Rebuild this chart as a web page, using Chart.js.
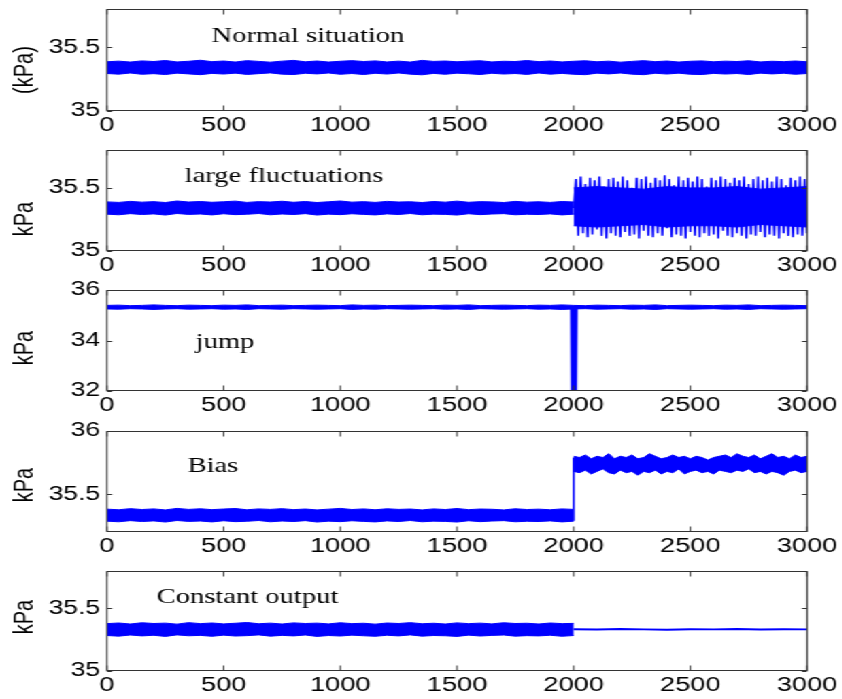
<!DOCTYPE html>
<html>
<head>
<meta charset="utf-8">
<script src="https://cdn.jsdelivr.net/npm/chart.js@4.4.1/dist/chart.umd.min.js"></script>
<style>
html,body{margin:0;padding:0;background:#fff;overflow:hidden;width:842px;height:699px;}
#wrap{position:absolute;left:0;top:0;width:619px;height:699px;transform:scaleX(1.36);transform-origin:0 0;}
#wrap canvas{position:absolute;left:0;}
</style>
</head>
<body>
<div id="wrap"></div>
<script>
// ---------- sample positions (x) ----------
const xFull50 = [0,50,100,150,200,250,300,350,400,450,500,550,600,650,700,750,800,850,900,950,1000,1050,1100,1150,1200,1250,1300,1350,1400,1450,1500,1550,1600,1650,1700,1750,1800,1850,1900,1950,2000,2050,2100,2150,2200,2250,2300,2350,2400,2450,2500,2550,2600,2650,2700,2750,2800,2850,2900,2950,3000];
const xTo2000by50 = [0,50,100,150,200,250,300,350,400,450,500,550,600,650,700,750,800,850,900,950,1000,1050,1100,1150,1200,1250,1300,1350,1400,1450,1500,1550,1600,1650,1700,1750,1800,1850,1900,1950,2000];
const xFrom2000by25 = [2000,2025,2050,2075,2100,2125,2150,2175,2200,2225,2250,2275,2300,2325,2350,2375,2400,2425,2450,2475,2500,2525,2550,2575,2600,2625,2650,2675,2700,2725,2750,2775,2800,2825,2850,2875,2900,2925,2950,2975,3000];
const xFrom2000by10 = [2000,2010,2020,2030,2040,2050,2060,2070,2080,2090,2100,2110,2120,2130,2140,2150,2160,2170,2180,2190,2200,2210,2220,2230,2240,2250,2260,2270,2280,2290,2300,2310,2320,2330,2340,2350,2360,2370,2380,2390,2400,2410,2420,2430,2440,2450,2460,2470,2480,2490,2500,2510,2520,2530,2540,2550,2560,2570,2580,2590,2600,2610,2620,2630,2640,2650,2660,2670,2680,2690,2700,2710,2720,2730,2740,2750,2760,2770,2780,2790,2800,2810,2820,2830,2840,2850,2860,2870,2880,2890,2900,2910,2920,2930,2940,2950,2960,2970,2980,2990,3000];
const xFrom2000by100 = [2000,2100,2200,2300,2400,2500,2600,2700,2800,2900,3000];
const xTicks = [0,500,1000,1500,2000,2500,3000];

// ---------- panel 1: normal situation ----------
const normalUpper = [35.386,35.391,35.384,35.393,35.388,35.396,35.385,35.390,35.398,35.387,
35.392,35.384,35.395,35.389,35.383,35.391,35.397,35.386,35.392,35.384,
35.390,35.395,35.388,35.393,35.385,35.391,35.384,35.397,35.389,35.392,
35.386,35.391,35.394,35.385,35.390,35.388,35.396,35.387,35.392,35.385,
35.390,35.394,35.386,35.391,35.383,35.389,35.395,35.387,35.392,35.384,
35.390,35.393,35.386,35.391,35.388,35.394,35.385,35.390,35.387,35.392,
35.386];
const normalLower = [35.294,35.289,35.298,35.288,35.293,35.286,35.297,35.291,35.285,35.295,
35.290,35.297,35.287,35.293,35.299,35.289,35.286,35.296,35.291,35.298,
35.288,35.294,35.286,35.296,35.290,35.298,35.289,35.284,35.295,35.288,
35.297,35.292,35.286,35.296,35.290,35.294,35.287,35.298,35.289,35.295,
35.288,35.285,35.297,35.291,35.298,35.289,35.285,35.296,35.290,35.297,
35.288,35.286,35.295,35.290,35.294,35.286,35.297,35.291,35.296,35.288,
35.294];
const normalTicks = [35, 35.5];

// ---------- panel 2: large fluctuations ----------
const flucBandUpper = [35.389,35.385,35.393,35.387,35.391,35.384,35.396,35.388,35.392,35.386,
35.390,35.395,35.385,35.391,35.388,35.394,35.386,35.392,35.384,35.390,
35.396,35.387,35.391,35.385,35.393,35.388,35.390,35.384,35.392,35.387,
35.395,35.386,35.391,35.389,35.384,35.393,35.387,35.390,35.385,35.392,
35.388];
const flucBandLower = [35.292,35.287,35.296,35.289,35.294,35.285,35.297,35.290,35.293,35.286,
35.295,35.288,35.291,35.297,35.287,35.293,35.289,35.296,35.285,35.292,
35.288,35.295,35.290,35.286,35.294,35.289,35.297,35.287,35.292,35.290,
35.285,35.295,35.288,35.293,35.296,35.287,35.291,35.289,35.294,35.286,
35.292];
const flucCoreUpper = [35.50,35.51,35.50,35.49,35.51,35.50,35.50,35.51,35.49,35.50,35.51];
const flucCoreLower = [35.20,35.19,35.20,35.21,35.19,35.20,35.20,35.19,35.21,35.20,35.19];
const flucSwing = [35.34,
35.57,35.12,35.59,35.14,35.53,35.11,35.58,35.13,35.56,35.17,
35.59,35.12,35.51,35.10,35.57,35.14,35.58,35.12,35.55,35.11,
35.59,35.15,35.56,35.12,35.50,35.13,35.58,35.10,35.57,35.16,
35.59,35.12,35.54,35.11,35.58,35.14,35.56,35.12,35.60,35.18,
35.57,35.11,35.52,35.13,35.59,35.12,35.56,35.10,35.58,35.15,
35.55,35.12,35.59,35.11,35.57,35.14,35.51,35.12,35.58,35.13,
35.56,35.10,35.59,35.16,35.57,35.12,35.54,35.11,35.58,35.14,
35.56,35.12,35.59,35.10,35.53,35.13,35.57,35.12,35.59,35.15,
35.56,35.11,35.58,35.13,35.55,35.12,35.59,35.10,35.57,35.14,
35.52,35.12,35.58,35.11,35.56,35.13,35.59,35.12,35.57,35.14];
const flucTicks = [35, 35.5];

// ---------- panel 3: jump ----------
const jumpUpper = [35.39,35.40,35.38,35.39,35.41,35.39,35.38,35.40,35.39,35.38,
35.40,35.39,35.41,35.38,35.39,35.40,35.38,35.39,35.40,35.39,
35.38,35.41,35.39,35.40,35.38,35.39,35.40,35.39,35.38,35.40,
35.39,35.41,35.38,35.39,35.40,35.39,35.38,35.40,35.39,35.41,
35.39,35.38,35.40,35.39,35.38,35.40,35.39,35.41,35.38,35.39,
35.40,35.39,35.38,35.40,35.39,35.41,35.38,35.39,35.40,35.39,
35.38];
const jumpLower = [35.25,35.24,35.26,35.25,35.23,35.25,35.26,35.24,35.25,35.26,
35.24,35.25,35.23,35.26,35.25,35.24,35.26,35.25,35.24,35.25,
35.26,35.23,35.25,35.24,35.26,35.25,35.24,35.25,35.26,35.24,
35.25,35.23,35.26,35.25,35.24,35.25,35.26,35.24,35.25,35.23,
35.25,35.26,35.24,35.25,35.26,35.24,35.25,35.23,35.26,35.25,
35.24,35.25,35.26,35.24,35.25,35.23,35.26,35.25,35.24,35.25,
35.26];
const jumpSpikeX = [1989,1992,1995,1998,2001,2004,2007,2010,2013];
const jumpSpikeY = [35.32,32.02,35.32,32.01,35.33,32.02,35.31,32.02,35.32];
const jumpTicks = [32, 34, 36];

// ---------- panel 4: bias ----------
const biasBeforeUpper = [35.381,35.376,35.385,35.378,35.383,35.375,35.387,35.379,35.384,35.377,
35.382,35.386,35.376,35.383,35.379,35.385,35.377,35.382,35.375,35.381,
35.387,35.378,35.383,35.376,35.384,35.379,35.382,35.375,35.383,35.378,
35.386,35.377,35.382,35.380,35.375,35.384,35.378,35.381,35.376,35.383,
35.379];
const biasBeforeLower = [35.286,35.281,35.290,35.283,35.288,35.279,35.291,35.284,35.287,35.280,
35.289,35.282,35.285,35.291,35.281,35.287,35.283,35.290,35.279,35.286,
35.282,35.289,35.284,35.280,35.288,35.283,35.291,35.281,35.286,35.284,
35.279,35.289,35.282,35.287,35.290,35.281,35.285,35.283,35.288,35.280,
35.286];
const biasAfterUpper = [35.80,35.79,35.81,35.78,35.80,35.79,35.82,35.78,35.80,35.79,
35.81,35.78,35.79,35.82,35.80,35.78,35.79,35.81,35.79,35.80,
35.78,35.80,35.79,35.77,35.79,35.80,35.81,35.79,35.82,35.80,
35.79,35.81,35.78,35.80,35.82,35.79,35.80,35.78,35.81,35.79,
35.80];
const biasAfterLower = [35.68,35.67,35.69,35.66,35.68,35.70,35.67,35.66,35.69,35.67,
35.68,35.65,35.68,35.67,35.69,35.66,35.68,35.67,35.70,35.66,
35.68,35.69,35.67,35.68,35.66,35.69,35.68,35.67,35.69,35.68,
35.70,35.67,35.68,35.66,35.68,35.67,35.65,35.68,35.69,35.67,
35.68];
const biasStepX = [2000, 2000];
const biasStepY = [35.29, 35.79];
const biasTicks = [35.5, 36];

// ---------- panel 5: constant output ----------
const constBandUpper = [35.379,35.384,35.376,35.386,35.380,35.383,35.375,35.387,35.379,35.384,
35.377,35.382,35.388,35.378,35.383,35.376,35.385,35.380,35.383,35.377,
35.386,35.379,35.382,35.375,35.384,35.380,35.387,35.378,35.382,35.376,
35.385,35.379,35.383,35.377,35.386,35.380,35.382,35.376,35.384,35.379,
35.381];
const constBandLower = [35.284,35.279,35.288,35.281,35.286,35.277,35.289,35.282,35.285,35.278,
35.287,35.280,35.283,35.289,35.279,35.285,35.281,35.288,35.277,35.284,
35.280,35.287,35.282,35.278,35.286,35.281,35.289,35.279,35.284,35.282,
35.277,35.287,35.280,35.285,35.288,35.279,35.283,35.281,35.286,35.278,
35.284];
const constOutY = [35.334,35.332,35.335,35.333,35.331,35.334,35.333,35.335,35.332,35.334,35.333];
const constTicks = [35, 35.5];

// ---------- drawing ----------
const SX = 1.36, W = 619;
const PLOT_L = 107 / SX, PLOT_R = 807 / SX;
const BLUE = '#0000ff';
const SANS = '"Liberation Sans", Arial, sans-serif';
const SERIF = '"Liberation Serif", "Times New Roman", serif';
const wrap = document.getElementById('wrap');

function pts(xs, ys) {
  const n = Math.min(xs.length, ys.length);
  const out = [];
  for (let i = 0; i < n; i++) out.push({x: xs[i], y: ys[i]});
  return out;
}
function band(xs, lo, hi) {
  return [
    {data: pts(xs, lo), borderColor: BLUE, borderWidth: 1, fill: false},
    {data: pts(xs, hi), borderColor: BLUE, borderWidth: 1, fill: '-1', backgroundColor: BLUE}
  ];
}
function line(xs, ys, w) {
  return {data: pts(xs, ys), borderColor: BLUE, borderWidth: w, fill: false};
}

const deco = {
  id: 'deco',
  afterDraw(chart, args, o) {
    const ctx = chart.ctx, a = chart.chartArea;
    const xs = chart.scales.x, ys = chart.scales.y;
    const L = a.left, R = a.right;
    const T = Math.round(a.top) + 0.5, B = Math.round(a.bottom) - 0.5;
    ctx.save();
    ctx.strokeStyle = '#333';
    ctx.lineWidth = 1;
    ctx.strokeRect(L, T, R - L, B - T);
    ctx.beginPath();
    xTicks.forEach(v => {
      const x = xs.getPixelForValue(v);
      ctx.moveTo(x, B); ctx.lineTo(x, B - 5);
      ctx.moveTo(x, T); ctx.lineTo(x, T + 5);
    });
    o.yTicks.forEach(v => {
      const y = Math.round(ys.getPixelForValue(v)) + 0.5;
      ctx.moveTo(L, y); ctx.lineTo(L + 3.7, y);
      ctx.moveTo(R, y); ctx.lineTo(R - 3.7, y);
    });
    ctx.stroke();
    ctx.restore();

    ctx.save();
    ctx.fillStyle = '#000';
    ctx.font = '20px ' + SANS;
    ctx.translate(24.3, o.labelY - o.canvasTop);
    ctx.rotate(-Math.PI / 2);
    ctx.textAlign = 'center';
    ctx.textBaseline = 'alphabetic';
    ctx.fillText(o.label, 0, 0);
    ctx.restore();

    ctx.save();
    ctx.fillStyle = '#000';
    ctx.font = '21px ' + SERIF;
    ctx.textAlign = 'center';
    ctx.textBaseline = 'alphabetic';
    ctx.fillText(o.note, o.noteX / SX, o.noteY - o.canvasTop);
    ctx.restore();
  }
};

function makePanel(p) {
  const PAD = 20, XH = 34;
  const h = PAD + (p.bottom - p.top) + XH;
  const cTop = p.top - PAD;
  const cv = document.createElement('canvas');
  cv.width = W; cv.height = h;
  cv.style.top = cTop + 'px';
  cv.style.width = W + 'px';
  cv.style.height = h + 'px';
  wrap.appendChild(cv);
  new Chart(cv, {
    type: 'line',
    data: {datasets: p.datasets},
    options: {
      responsive: false,
      animation: false,
      devicePixelRatio: 1,
      events: [],
      layout: {padding: {top: PAD, left: 0, right: W - PLOT_R, bottom: 0}},
      elements: {point: {radius: 0}, line: {tension: 0}},
      plugins: {
        legend: {display: false},
        tooltip: {enabled: false},
        deco: {label: p.label, labelY: p.labelY, note: p.note, noteX: p.noteX, noteY: p.noteY,
               canvasTop: cTop, yTicks: p.yTicks}
      },
      scales: {
        x: {
          type: 'linear', min: 0, max: 3000,
          grid: {display: false, drawTicks: false},
          border: {display: false},
          afterBuildTicks(s) { s.ticks = xTicks.map(v => ({value: v})); },
          ticks: {padding: 2, color: '#000', maxRotation: 0, autoSkip: false,
                  font: {family: SANS, size: 20}, callback: v => String(v)},
          afterFit(s) { s.height = XH; s.paddingLeft = 0; s.paddingRight = 0; }
        },
        y: {
          type: 'linear', min: p.yMin, max: p.yMax,
          grid: {display: false, drawTicks: false},
          border: {display: false},
          afterBuildTicks(s) { s.ticks = p.yTicks.map(v => ({value: v})); },
          ticks: {padding: 5, color: '#000', autoSkip: false,
                  font: {family: SANS, size: 19.5}, callback: v => String(v)},
          afterFit(s) { s.width = PLOT_L; s.paddingTop = 0; s.paddingBottom = 0; }
        }
      }
    },
    plugins: [deco]
  });
}

makePanel({
  top: 9, bottom: 111, yMin: 35, yMax: 35.8, yTicks: normalTicks,
  label: '(kPa)', labelY: 70, note: 'Normal situation', noteX: 308, noteY: 42,
  datasets: band(xFull50, normalLower, normalUpper)
});
makePanel({
  top: 150, bottom: 251, yMin: 35, yMax: 35.8, yTicks: flucTicks,
  label: 'kPa', labelY: 219, note: 'large fluctuations', noteX: 284, noteY: 182,
  datasets: [].concat(
    band(xTo2000by50, flucBandLower, flucBandUpper),
    band(xFrom2000by100, flucCoreLower, flucCoreUpper),
    [line(xFrom2000by10, flucSwing, 1.5)]
  )
});
makePanel({
  top: 290, bottom: 391, yMin: 32, yMax: 36, yTicks: jumpTicks,
  label: 'kPa', labelY: 348, note: 'jump', noteX: 225, noteY: 348,
  datasets: [].concat(
    band(xFull50, jumpLower, jumpUpper),
    [line(jumpSpikeX, jumpSpikeY, 1.5)]
  )
});
makePanel({
  top: 431, bottom: 532, yMin: 35.2, yMax: 36, yTicks: biasTicks,
  label: 'kPa', labelY: 485, note: 'Bias', noteX: 213, noteY: 472,
  datasets: [].concat(
    band(xTo2000by50, biasBeforeLower, biasBeforeUpper),
    band(xFrom2000by25, biasAfterLower, biasAfterUpper),
    [line(biasStepX, biasStepY, 1.5)]
  )
});
makePanel({
  top: 571, bottom: 671, yMin: 35, yMax: 35.8, yTicks: constTicks,
  label: 'kPa', labelY: 617, note: 'Constant output', noteX: 247.5, noteY: 603,
  datasets: [].concat(
    band(xTo2000by50, constBandLower, constBandUpper),
    [line(xFrom2000by100, constOutY, 2)]
  )
});
</script>
</body>
</html>
